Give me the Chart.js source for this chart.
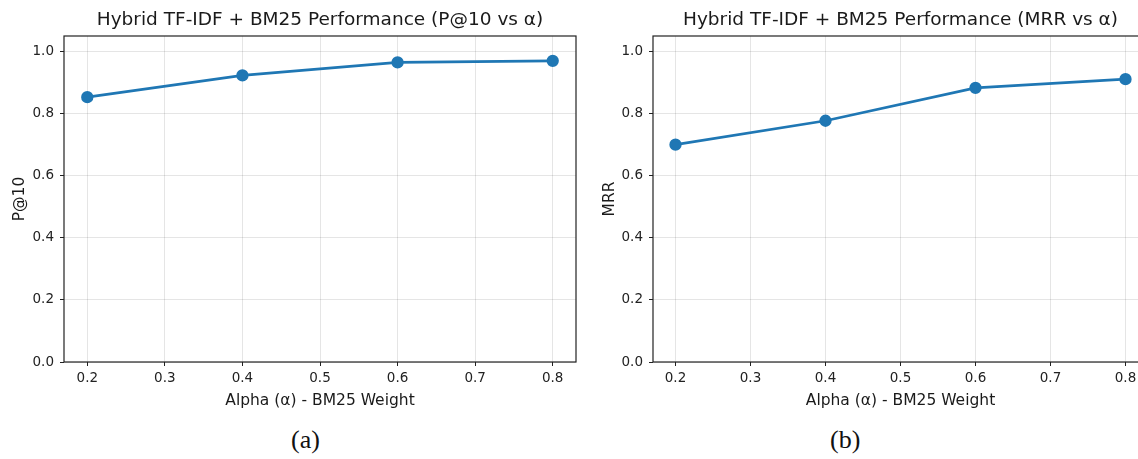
<!DOCTYPE html>
<html>
<head>
<meta charset="utf-8">
<script src="https://cdn.jsdelivr.net/npm/chart.js@4"></script>
<style>
  html, body { margin: 0; padding: 0; background: #fff; overflow: hidden; }
  body { width: 1138px; height: 459px; position: relative; }
  .box { position: absolute; top: 0; width: 600px; height: 420px; }
  .cap { position: absolute; top: 425px; font-family: "Liberation Serif", serif; font-size: 26px; line-height: 30px; color: #111; }
</style>
</head>
<body>
<div class="box" style="left:0px"><canvas id="chartA"></canvas></div>
<div class="box" style="left:590px"><canvas id="chartB"></canvas></div>
<div class="cap" style="left:291px">(a)</div>
<div class="cap" style="left:830px">(b)</div>
<script>
// data
var alphas = [0.2, 0.4, 0.6, 0.8];
var p10 = [0.853, 0.923, 0.965, 0.970];
var mrr = [0.700, 0.777, 0.883, 0.911];
var xTicks = [0.2, 0.3, 0.4, 0.5, 0.6, 0.7, 0.8];
var yTicks = [0.0, 0.2, 0.4, 0.6, 0.8, 1.0];

Chart.defaults.font.family = "'DejaVu Sans', sans-serif";
Chart.defaults.color = '#222';

// matplotlib-like frame and title
var frame = {
    id: 'frame',
    afterDraw: function(chart, args, opts){
        var a = chart.chartArea, ctx = chart.ctx;
        ctx.save();
        ctx.strokeStyle = '#222';
        ctx.lineWidth = 1.2;
        ctx.strokeRect(a.left, a.top, a.right - a.left, a.bottom - a.top);
        ctx.fillStyle = '#1a1a1a';
        ctx.font = "18.5px 'DejaVu Sans'";
        ctx.textAlign = 'center';
        ctx.textBaseline = 'middle';
        ctx.fillText(opts.text, (a.left + a.right) / 2, 20);
        ctx.restore();
    }
};

function makeChart(id, values, title, ylabel, yWidth, padRight){
    var pts = alphas.map(function(a, i){ return {x: a, y: values[i]}; });
    return new Chart(document.getElementById(id), {
        type: 'line',
        data: {
            datasets: [{
                data: pts,
                borderColor: '#1f77b4',
                backgroundColor: '#1f77b4',
                borderWidth: 2.7,
                pointRadius: 4.8,
                pointHoverRadius: 4.8,
                tension: 0
            }]
        },
        options: {
            responsive: true,
            maintainAspectRatio: false,
            animation: false,
            layout: { padding: { top: 36, right: padRight, left: 0, bottom: 0 } },
            plugins: {
                legend: { display: false },
                tooltip: { enabled: false },
                frame: { text: title }
            },
            scales: {
                x: {
                    type: 'linear',
                    min: 0.17,
                    max: 0.83,
                    afterBuildTicks: function(s){ s.ticks = xTicks.map(function(v){ return {value: v}; }); },
                    afterFit: function(s){ s.height = 58; },
                    ticks: { font: { size: 13.5 }, padding: 4, maxRotation: 0,
                             callback: function(v){ return v.toFixed(1); } },
                    grid: { color: 'rgba(0,0,0,0.1)', tickColor: '#222', tickLength: 4, tickWidth: 1 },
                    border: { display: false },
                    title: { display: true, text: 'Alpha (α) - BM25 Weight', font: { size: 15.5 },
                             color: '#1a1a1a', padding: { top: 0, bottom: 10 } }
                },
                y: {
                    min: 0,
                    max: 1.05,
                    afterBuildTicks: function(s){ s.ticks = yTicks.map(function(v){ return {value: v}; }); },
                    afterFit: function(s){ s.width = yWidth; },
                    ticks: { font: { size: 13.5 }, padding: 6,
                             callback: function(v){ return v.toFixed(1); } },
                    grid: { color: 'rgba(0,0,0,0.1)', tickColor: '#222', tickLength: 4, tickWidth: 1 },
                    border: { display: false },
                    title: { display: true, text: ylabel, font: { size: 15.5 },
                             color: '#1a1a1a', padding: { top: 11, bottom: 0 } }
                }
            }
        },
        plugins: [frame]
    });
}

makeChart('chartA', p10, 'Hybrid TF-IDF + BM25 Performance (P@10 vs α)', 'P@10', 64, 24);
makeChart('chartB', mrr, 'Hybrid TF-IDF + BM25 Performance (MRR vs α)', 'MRR', 63, 42);
</script>
</body>
</html>
